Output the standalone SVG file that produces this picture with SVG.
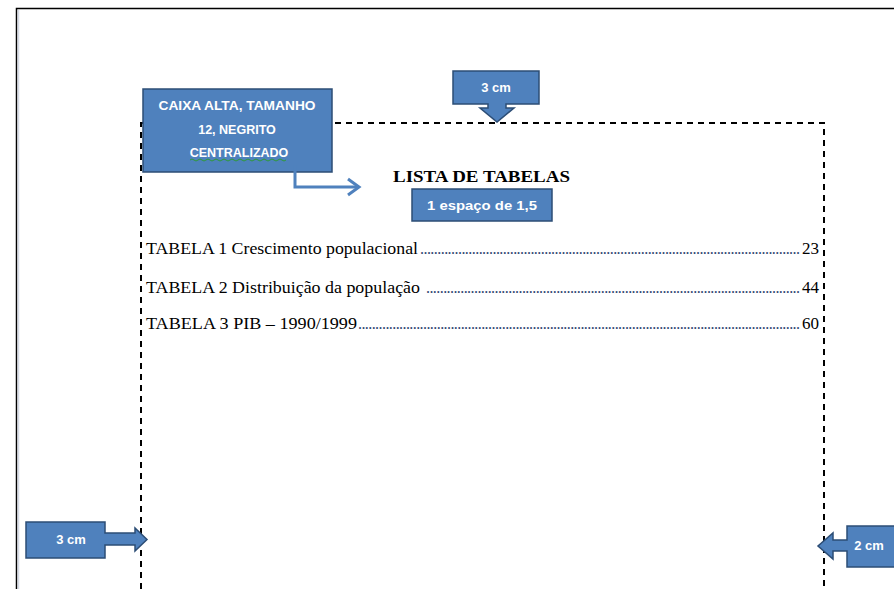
<svg xmlns="http://www.w3.org/2000/svg" width="894" height="589" viewBox="0 0 894 589">
<style>
.box{fill:#4f81bd;stroke:#2c4d75;stroke-width:1.5}
.lbl{font-family:"Liberation Sans",Arial,sans-serif;font-weight:bold;fill:#ffffff;text-anchor:middle}
.body{font-family:"Liberation Serif","Times New Roman",serif;font-size:17px;fill:#000}
.dots{font-family:"Liberation Serif","Times New Roman",serif;font-size:16px;fill:#2f4670}
.margin{fill:none;stroke:#000;stroke-width:2;stroke-dasharray:6 5}
</style>
<rect width="894" height="589" fill="#ffffff"/>
<path d="M16.5 589 V8.5 H894" fill="none" stroke="#000" stroke-width="1.5"/>
<line x1="18.5" y1="10" x2="18.5" y2="589" stroke="#d5dbe6" stroke-width="1.5"/>
<g id="margins">
<path class="margin" d="M141 589 V123 H824 V589"/>
</g>
<g id="title">
<text x="393" y="182" class="body" style="font-weight:bold" textLength="177" lengthAdjust="spacingAndGlyphs">LISTA DE TABELAS</text>
</g>
<g id="entries">
<text x="146" y="254" class="body" textLength="272" lengthAdjust="spacingAndGlyphs">TABELA 1 Crescimento populacional</text>
<text x="420" y="254" class="dots" textLength="380" lengthAdjust="spacing">..............................................................................................................</text>
<text x="819" y="254" class="body" text-anchor="end">23</text>
<text x="146" y="293" class="body" textLength="274" lengthAdjust="spacingAndGlyphs">TABELA 2 Distribuição da população</text>
<text x="426" y="293" class="dots" textLength="374" lengthAdjust="spacing">.............................................................................................................</text>
<text x="819" y="293" class="body" text-anchor="end">44</text>
<text x="146" y="329" class="body" textLength="211" lengthAdjust="spacingAndGlyphs">TABELA 3 PIB – 1990/1999</text>
<text x="358" y="329" class="dots" textLength="442" lengthAdjust="spacing">.................................................................................................................................</text>
<text x="819" y="329" class="body" text-anchor="end">60</text>
</g>
<g id="callout-caixa">
<rect class="box" x="143" y="89" width="189" height="83"/>
<text class="lbl" font-size="12.5" x="237" y="110" textLength="157" lengthAdjust="spacingAndGlyphs">CAIXA  ALTA,  TAMANHO</text>
<text class="lbl" font-size="12.5" x="237" y="134">12, NEGRITO</text>
<text class="lbl" font-size="12.5" x="239" y="157">CENTRALIZADO</text>
<path d="M190 160 q2 -2 4 0 t4 0 t4 0 t4 0 t4 0 t4 0 t4 0 t4 0 t4 0 t4 0 t4 0 t4 0 t4 0 t4 0 t4 0 t4 0 t4 0 t4 0 t4 0 t4 0 t4 0 t4 0 t4 0 t4 0" fill="none" stroke="#2e9a3a" stroke-width="1"/>
</g>
<g id="callout-espaco">
<rect class="box" x="412" y="189" width="140" height="32"/>
<text class="lbl" font-size="13" x="482" y="210" textLength="110" lengthAdjust="spacingAndGlyphs">1 espaço de 1,5</text>
</g>
<g id="callout-top">
<path class="box" d="M453 71 H539 V104 H506 V108 H514 L497 122 L480 108 H488 V104 H453 Z"/>
<text class="lbl" font-size="13" x="496" y="92">3 cm</text>
</g>
<g id="callout-left">
<path class="box" d="M26 522 H105 V533 H135 V528 L147 539.5 L135 551 V545 H105 V558 H26 Z"/>
<text class="lbl" font-size="13" x="71" y="544">3 cm</text>
</g>
<g id="callout-right">
<path class="box" d="M896 526 H847 V540 H833 V533 L818 546 L833 559 V551 H847 V567 H896 Z"/>
<text class="lbl" font-size="13" x="869" y="550">2 cm</text>
</g>
<g id="connectors">
<path d="M295 165 V187 H357" fill="none" stroke="#4f81bd" stroke-width="3"/>
<path d="M348 179 L359 187 L348 195" fill="none" stroke="#4f81bd" stroke-width="3"/>
</g>
</svg>
